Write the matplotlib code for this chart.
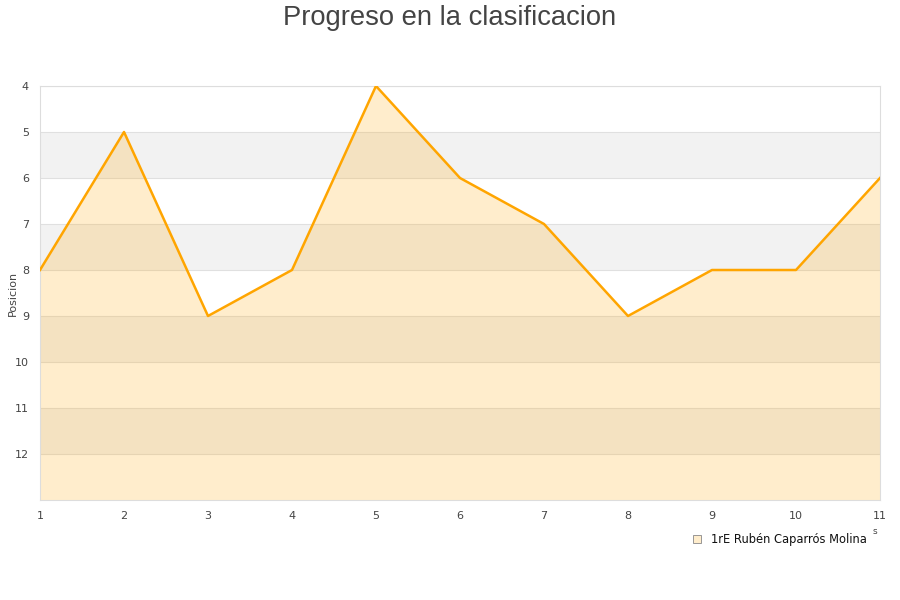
import matplotlib.pyplot as plt

# data
jornadas = [1, 2, 3, 4, 5, 6, 7, 8, 9, 10, 11]
posiciones = [8, 5, 9, 8, 4, 6, 7, 9, 8, 8, 6]
y_ticks = [4, 5, 6, 7, 8, 9, 10, 11, 12]
serie = "1rE Rubén Caparrós Molina"

fig = plt.figure(figsize=(9, 6), dpi=100)
ax = fig.add_axes([40 / 900, 1 - 500 / 600, 840 / 900, 414 / 600])

y_min, y_max = 4, 13

# alternating bands
for lo in range(5, y_max, 2):
    ax.axhspan(lo, lo + 1, color="#f2f2f2", zorder=0, lw=0)
for y in range(y_min, y_max):
    ax.axhline(y, color="#e0e0e0", lw=0.8, zorder=1)

ax.fill_between(jornadas, posiciones, y_max, color="#ffa500", alpha=0.2, lw=0, zorder=2)
ax.plot(jornadas, posiciones, color="#ffa500", lw=1.8, zorder=3)

ax.set_xlim(1, 11)
ax.set_ylim(y_max, y_min)
ax.set_yticks(y_ticks)
ax.set_xticks(jornadas)
ax.tick_params(length=0, labelsize=8, colors="#444444", pad=8)
for s in ax.spines.values():
    s.set_color("#dddddd")
    s.set_linewidth(0.8)

ax.set_ylabel("Posicion", fontsize=8, color="#444444", labelpad=-2)

fig.text(0.5, 1 - 18 / 600, "Progreso en la clasificacion", ha="center", va="center",
         fontsize=19.7, color="#444444", family="Liberation Sans")

# legend (x axis title mostly hidden behind it)
fig.text(875 / 900, 1 - 531 / 600, "s", ha="center", va="center", fontsize=6.5, color="#444444")
fig.patches.append(plt.Rectangle((693 / 900, 1 - 543 / 600), 8 / 900, 8 / 600,
                                 transform=fig.transFigure, facecolor="#ffedcc",
                                 edgecolor="#888888", lw=0.6))
fig.text(711 / 900, 1 - 539 / 600, serie, ha="left", va="center", fontsize=8.3, color="#111111")

plt.savefig("out.png", dpi=100)
